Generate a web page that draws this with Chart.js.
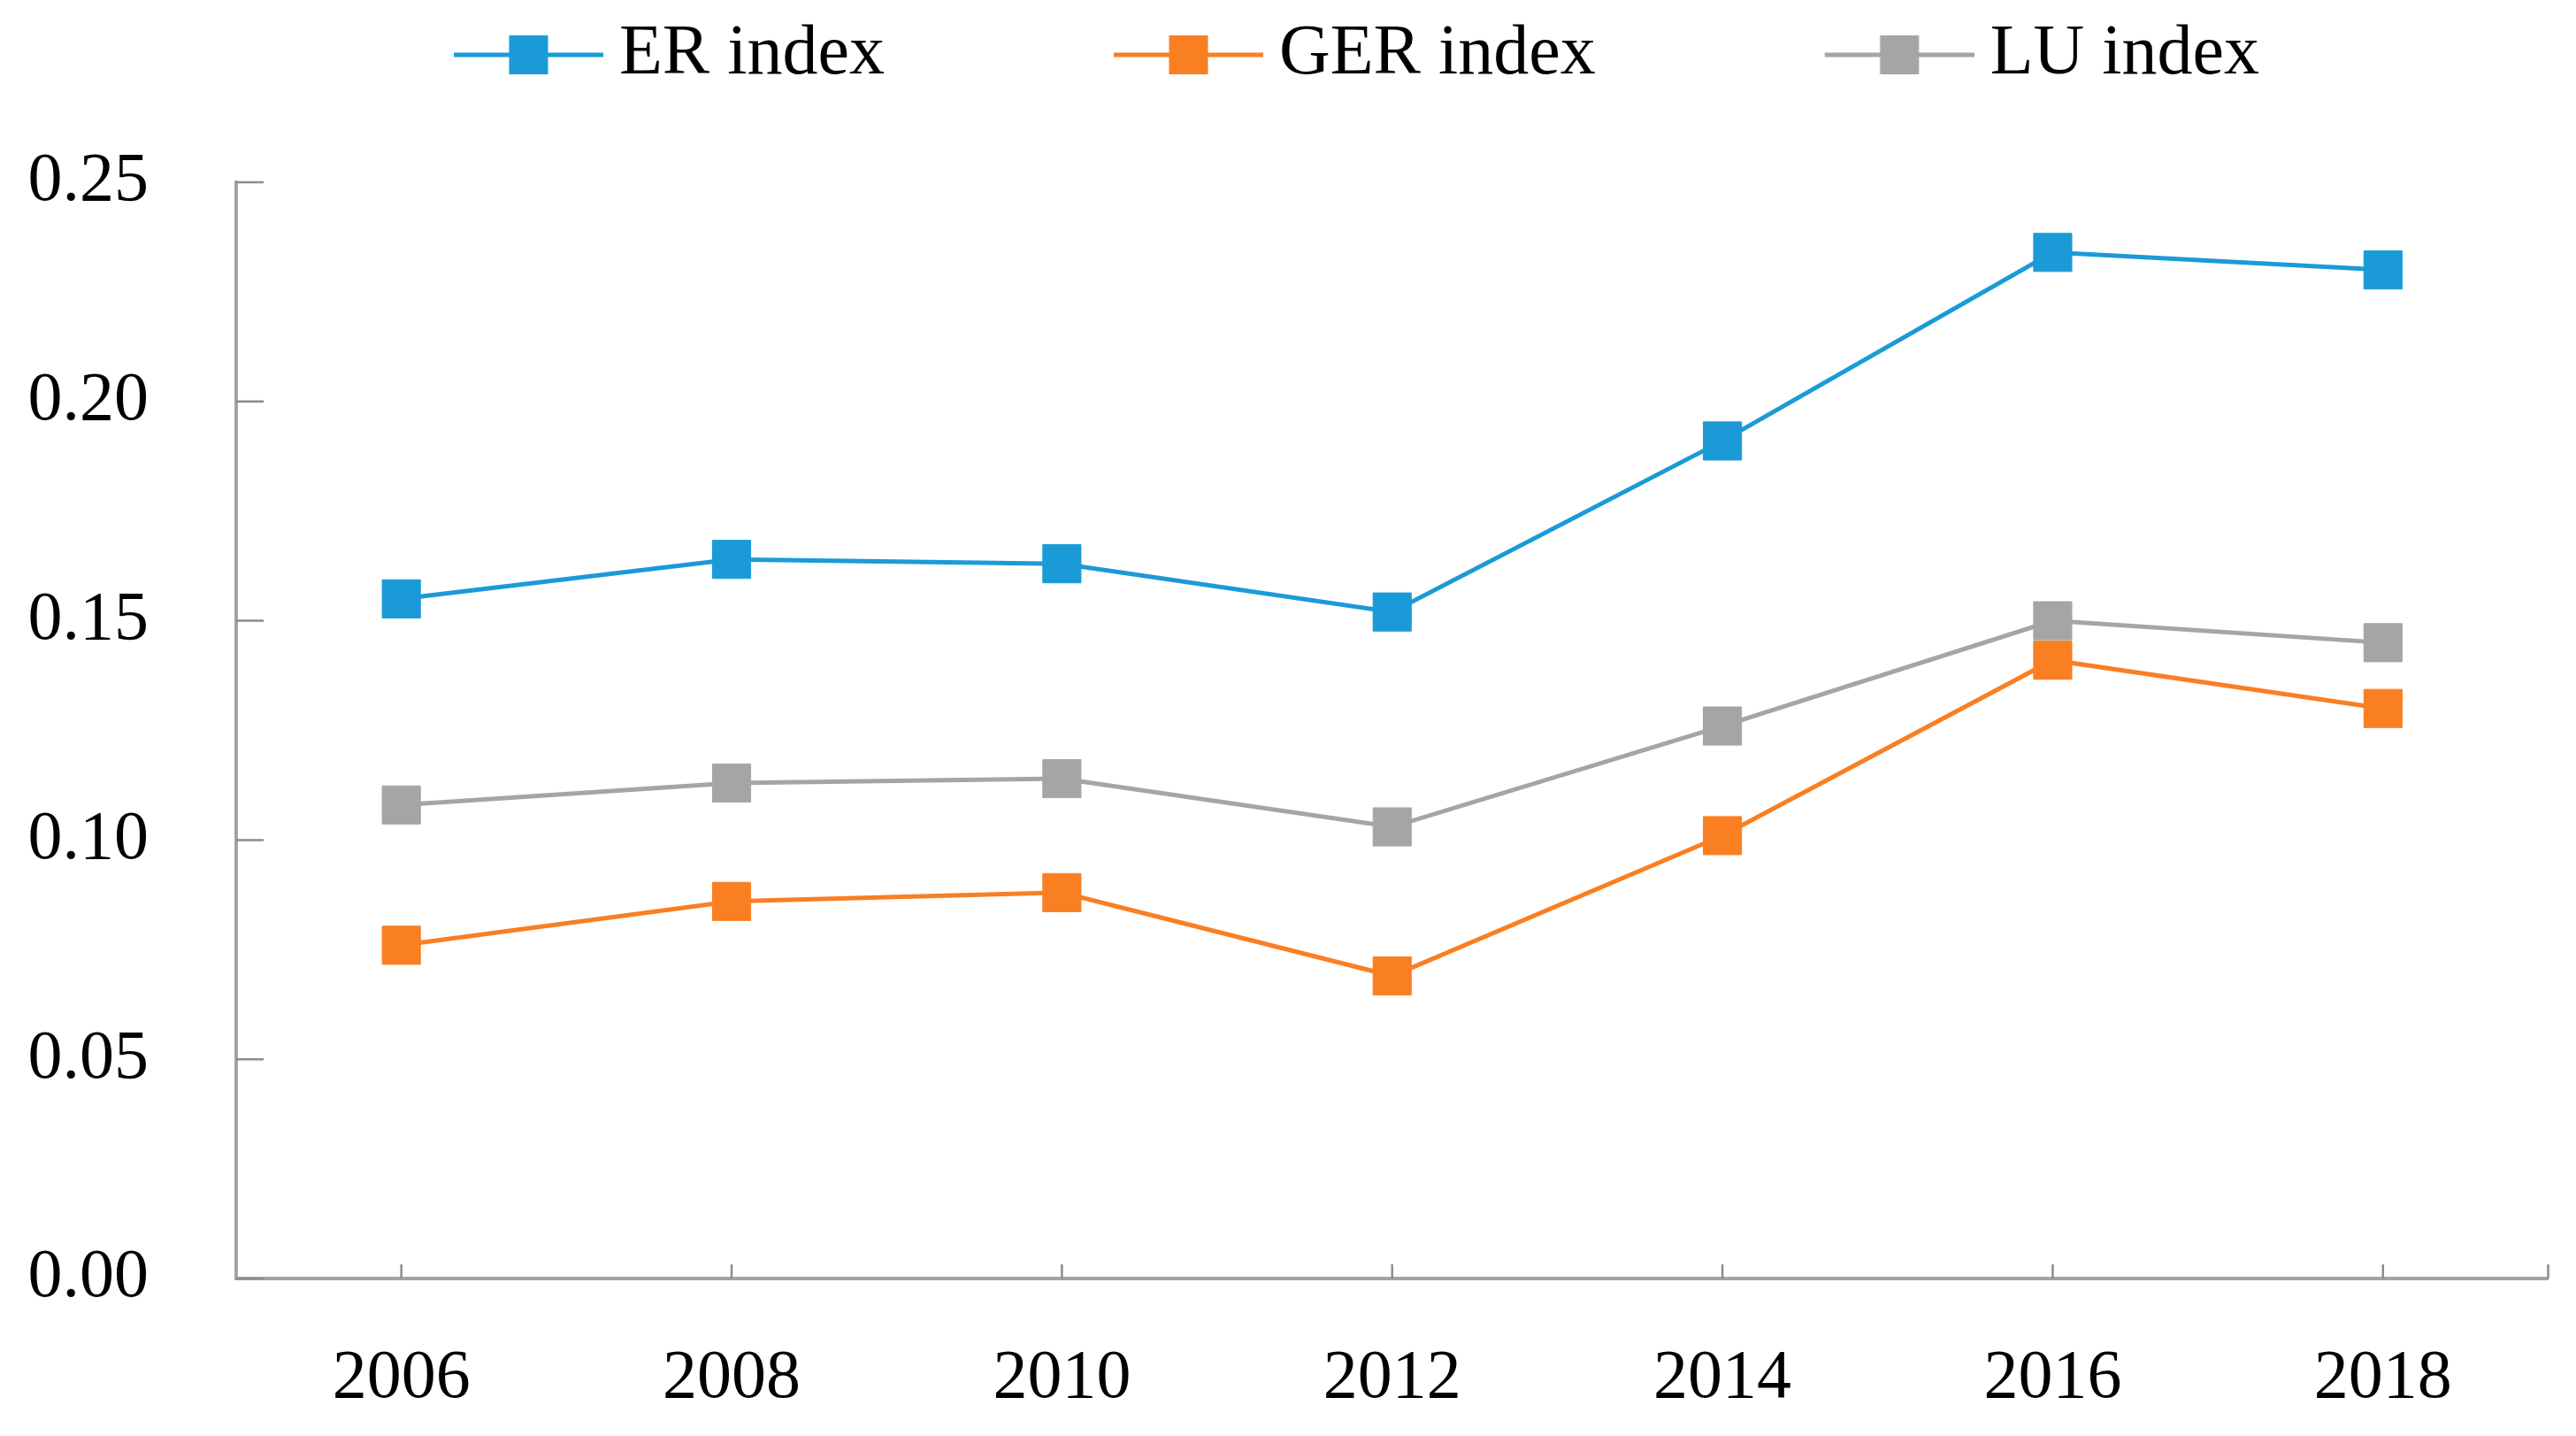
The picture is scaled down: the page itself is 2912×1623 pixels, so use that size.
<!DOCTYPE html>
<html>
<head>
<meta charset="utf-8">
<script src="https://cdn.jsdelivr.net/npm/chart.js@4.4.1/dist/chart.umd.min.js"></script>
<style>
  html, body { margin: 0; padding: 0; background: #fff; }
  #wrap { width: 2912px; height: 1623px; }
</style>
</head>
<body>
<div id="wrap"><canvas id="indexChart"></canvas></div>
<script>
// values
const years = ['2006', '2008', '2010', '2012', '2014', '2016', '2018'];
const erIndex = [0.155, 0.164, 0.163, 0.152, 0.191, 0.234, 0.230];
const gerIndex = [0.076, 0.086, 0.088, 0.069, 0.101, 0.141, 0.130];
const luIndex = [0.108, 0.113, 0.114, 0.103, 0.126, 0.150, 0.145];
const yTicks = [0, 0.05, 0.10, 0.15, 0.20, 0.25];

const serif = "'Palatino Linotype', 'Book Antiqua', Palatino, 'Liberation Serif', serif";
const axisGrey = '#a3a3a3';

// legend symbol: line with a square, sitting at the right end of a wider transparent canvas
function legendMarker(color) {
    const c = document.createElement('canvas');
    c.width = 438;
    c.height = 50;
    const ctx = c.getContext('2d');
    ctx.strokeStyle = color;
    ctx.lineWidth = 5;
    ctx.beginPath();
    ctx.moveTo(c.width - 169, 25);
    ctx.lineTo(c.width, 25);
    ctx.stroke();
    ctx.fillStyle = color;
    ctx.fillRect(c.width - 84.5 - 22, 3, 44, 44);
    return c;
}

function series(label, data, color) {
    return {
        label,
        data,
        borderColor: color,
        backgroundColor: color,
        borderWidth: 5,
        tension: 0,
        fill: false,
        pointStyle: 'rect',
        pointRadius: 30.5,
        pointBorderWidth: 1,
        pointBackgroundColor: color,
        pointBorderColor: color,
        marker: legendMarker(color)
    };
}

// short tick marks pointing into the plot area
const innerTicks = {
    id: 'innerTicks',
    beforeDatasetsDraw(chart) {
        const { ctx, chartArea: a, scales: { x, y } } = chart;
        ctx.save();
        ctx.strokeStyle = '#8c8c8c';
        ctx.lineWidth = 2.5;
        ctx.beginPath();
        y.ticks.forEach((t, i) => {
            const py = y.getPixelForTick(i);
            ctx.moveTo(a.left, py);
            ctx.lineTo(a.left + 31, py);
        });
        years.forEach((_, i) => {
            const px = x.getPixelForTick(i);
            ctx.moveTo(px, a.bottom);
            ctx.lineTo(px, a.bottom - 16);
        });
        ctx.moveTo(a.right, a.bottom);
        ctx.lineTo(a.right, a.bottom - 16);
        ctx.stroke();
        ctx.restore();
    }
};

// keep the gap between legend and plot like in the figure, and start it a bit left of the plot
const legendSpace = {
    id: 'legendSpace',
    afterInit(chart) {
        const legend = chart.legend;
        const fit = legend.fit;
        legend.fit = function () {
            fit.call(this);
            this.height = 196;
        };
    },
    afterLayout(chart) {
        chart.legend.left = chart.chartArea.left - 13;
    }
};

const ctx = document.getElementById('indexChart').getContext('2d');
const indexChart = new Chart(ctx, {
    type: 'line',
    data: {
        labels: years,
        datasets: [
            series('ER index', erIndex, '#1a9bd7'),
            series('GER index', gerIndex, '#f97f22'),
            series('LU index', luIndex, '#a5a5a5')
        ]
    },
    plugins: [innerTicks, legendSpace],
    options: {
        responsive: true,
        maintainAspectRatio: false,
        animation: false,
        layout: { padding: { top: 10, left: 0, right: 24, bottom: 0 } },
        plugins: {
            tooltip: { enabled: false },
            legend: {
                position: 'top',
                align: 'start',
                fullSize: false,
                labels: {
                    usePointStyle: true,
                    pointStyleWidth: 394,
                    padding: 12,
                    color: '#000',
                    font: { family: serif, size: 80 },
                    generateLabels: chart => chart.data.datasets.map((ds, i) => ({
                        text: ds.label,
                        pointStyle: ds.marker,
                        fillStyle: ds.borderColor,
                        strokeStyle: ds.borderColor,
                        lineWidth: 0,
                        hidden: false,
                        fontColor: '#000',
                        datasetIndex: i
                    }))
                }
            }
        },
        scales: {
            x: {
                offset: true,
                grid: { display: false, drawTicks: false },
                border: { display: true, color: axisGrey, width: 4 },
                ticks: {
                    color: '#000',
                    font: { family: serif, size: 78 },
                    padding: 67,
                    autoSkip: false,
                    maxRotation: 0
                },
                afterFit: s => { s.height = 178; }
            },
            y: {
                min: 0,
                max: 0.25,
                grid: { display: false, drawTicks: false },
                border: { display: true, color: axisGrey, width: 4 },
                afterBuildTicks: s => { s.ticks = yTicks.map(v => ({ value: v })); },
                ticks: {
                    color: '#000',
                    font: { family: serif, size: 78 },
                    padding: 99,
                    callback: v => Number(v).toFixed(2)
                },
                afterFit: s => { s.width = 267; }
            }
        }
    }
});
</script>
</body>
</html>
